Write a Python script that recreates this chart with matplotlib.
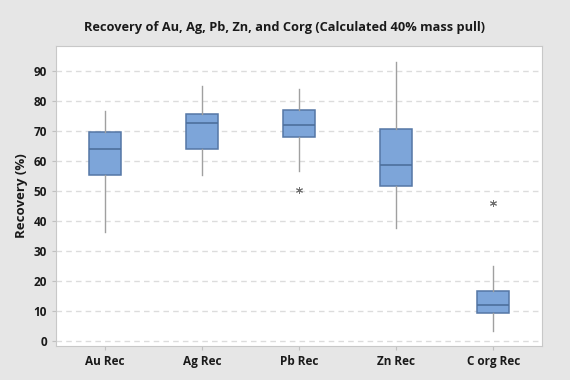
import matplotlib
matplotlib.use("Agg")
import matplotlib.pyplot as plt

labels = ["Au Rec", "Ag Rec", "Pb Rec", "Zn Rec", "C org Rec"]
whislo = [36.4, 55.2, 56.8, 37.8, 3.4]
q1 = [55.4, 64.0, 68.0, 51.8, 9.4]
med = [64.0, 72.8, 72.1, 58.7, 12.1]
q3 = [69.6, 75.8, 76.9, 70.8, 16.8]
whishi = [76.7, 85.0, 84.2, 92.9, 25.0]
outliers = [[], [], [50.2], [], [46.0]]

plt.rcParams['font.family'] = ['Open Sans', 'DejaVu Sans']

stats = []
for i in range(len(labels)):
    stats.append({"label": labels[i], "whislo": whislo[i], "q1": q1[i], "med": med[i],
                  "q3": q3[i], "whishi": whishi[i], "fliers": outliers[i]})

fig = plt.figure(figsize=(5.7, 3.8), dpi=100, facecolor="#e6e6e6")
ax = fig.add_axes([56 / 570, 1 - 346 / 380, 486 / 570, 300 / 380])
ax.set_facecolor("white")

ax.bxp(stats, widths=0.33, patch_artist=True, showcaps=False,
       boxprops=dict(facecolor="#7da5d9", edgecolor="#5577a6", linewidth=1.1),
       medianprops=dict(color="#4d6f9c", linewidth=1.2),
       whiskerprops=dict(color="#a0a0a0", linewidth=1.0),
       flierprops=dict(marker=(6, 2, 0), markersize=5, markeredgewidth=0.7,
                       markeredgecolor="#707070", linestyle="none"))

ax.set_xlim(0.5, 5.5)
ax.set_ylim(-1.7, 98.4)
ax.set_yticks(range(0, 100, 10))
ax.yaxis.grid(True, linestyle=(0, (4, 3)), color="#dcdcdc", linewidth=1)
ax.set_axisbelow(True)
for s in ax.spines.values():
    s.set_color("#c8c8c8")
ax.tick_params(colors="#c0c0c0", labelcolor="#1a1a1a", labelsize=8.5, length=3)
for t in ax.get_xticklabels() + ax.get_yticklabels():
    t.set_fontweight("bold")
ax.set_ylabel("Recovery (%)", fontsize=9.5, fontweight="bold", color="#1a1a1a")

fig.text(0.5, 1 - 27 / 380, "Recovery of Au, Ag, Pb, Zn, and Corg (Calculated 40% mass pull)",
         ha="center", va="center", fontsize=9.2, fontweight="bold", color="#1a1a1a")

fig.savefig("out.png", dpi=100, facecolor=fig.get_facecolor())
